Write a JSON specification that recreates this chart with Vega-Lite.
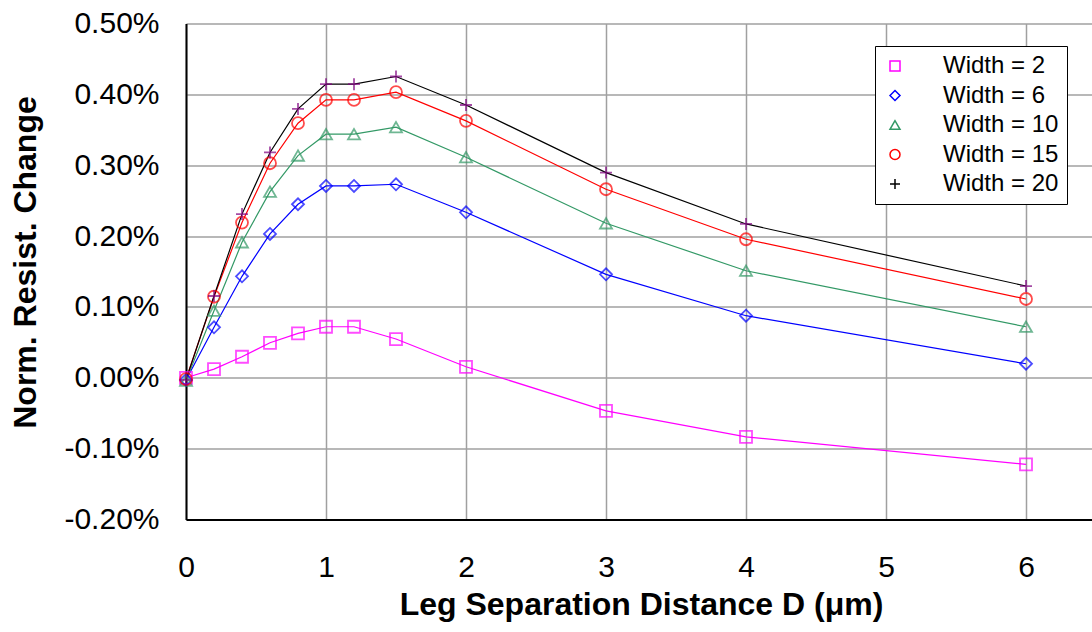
{
  "$schema": "https://vega.github.io/schema/vega-lite/v6.json",
  "autosize": {"type": "none"},
  "padding": {"left": 186, "top": 23.5, "right": 0, "bottom": 112.5},
  "width": 906,
  "height": 496,
  "background": "white",
  "config": {
    "font": "Liberation Sans",
    "view": {"stroke": null}
  },
  "data": {
    "values": [
      {"series": "Width = 2", "D": 0, "R": 0.0},
      {"series": "Width = 2", "D": 0.2, "R": 0.000123},
      {"series": "Width = 2", "D": 0.4, "R": 0.000297},
      {"series": "Width = 2", "D": 0.6, "R": 0.000494},
      {"series": "Width = 2", "D": 0.8, "R": 0.000627},
      {"series": "Width = 2", "D": 1.0, "R": 0.00072},
      {"series": "Width = 2", "D": 1.2, "R": 0.00072},
      {"series": "Width = 2", "D": 1.5, "R": 0.000547},
      {"series": "Width = 2", "D": 2, "R": 0.000155},
      {"series": "Width = 2", "D": 3, "R": -0.000466},
      {"series": "Width = 2", "D": 4, "R": -0.000833},
      {"series": "Width = 2", "D": 6, "R": -0.001223},

      {"series": "Width = 6", "D": 0, "R": -0.00003},
      {"series": "Width = 6", "D": 0.2, "R": 0.000712},
      {"series": "Width = 6", "D": 0.4, "R": 0.001432},
      {"series": "Width = 6", "D": 0.6, "R": 0.00203},
      {"series": "Width = 6", "D": 0.8, "R": 0.002449},
      {"series": "Width = 6", "D": 1.0, "R": 0.002708},
      {"series": "Width = 6", "D": 1.2, "R": 0.002708},
      {"series": "Width = 6", "D": 1.5, "R": 0.002731},
      {"series": "Width = 6", "D": 2, "R": 0.002336},
      {"series": "Width = 6", "D": 3, "R": 0.00146},
      {"series": "Width = 6", "D": 4, "R": 0.000876},
      {"series": "Width = 6", "D": 6, "R": 0.000198},

      {"series": "Width = 10", "D": 0, "R": -0.00004},
      {"series": "Width = 10", "D": 0.2, "R": 0.000946},
      {"series": "Width = 10", "D": 0.4, "R": 0.001912},
      {"series": "Width = 10", "D": 0.6, "R": 0.002627},
      {"series": "Width = 10", "D": 0.8, "R": 0.003136},
      {"series": "Width = 10", "D": 1.0, "R": 0.003438},
      {"series": "Width = 10", "D": 1.2, "R": 0.003438},
      {"series": "Width = 10", "D": 1.5, "R": 0.003537},
      {"series": "Width = 10", "D": 2, "R": 0.003113},
      {"series": "Width = 10", "D": 3, "R": 0.00218},
      {"series": "Width = 10", "D": 4, "R": 0.001511},
      {"series": "Width = 10", "D": 6, "R": 0.00072},

      {"series": "Width = 15", "D": 0, "R": -0.00002},
      {"series": "Width = 15", "D": 0.2, "R": 0.001144},
      {"series": "Width = 15", "D": 0.4, "R": 0.00219},
      {"series": "Width = 15", "D": 0.6, "R": 0.003028},
      {"series": "Width = 15", "D": 0.8, "R": 0.003593},
      {"series": "Width = 15", "D": 1.0, "R": 0.003922},
      {"series": "Width = 15", "D": 1.2, "R": 0.003922},
      {"series": "Width = 15", "D": 1.5, "R": 0.004031},
      {"series": "Width = 15", "D": 2, "R": 0.003626},
      {"series": "Width = 15", "D": 3, "R": 0.002661},
      {"series": "Width = 15", "D": 4, "R": 0.001955},
      {"series": "Width = 15", "D": 6, "R": 0.001112},

      {"series": "Width = 20", "D": 0, "R": -0.00003},
      {"series": "Width = 20", "D": 0.2, "R": 0.001154},
      {"series": "Width = 20", "D": 0.4, "R": 0.00231},
      {"series": "Width = 20", "D": 0.6, "R": 0.00318},
      {"series": "Width = 20", "D": 0.8, "R": 0.003795},
      {"series": "Width = 20", "D": 1.0, "R": 0.004144},
      {"series": "Width = 20", "D": 1.2, "R": 0.004144},
      {"series": "Width = 20", "D": 1.5, "R": 0.004252},
      {"series": "Width = 20", "D": 2, "R": 0.00385},
      {"series": "Width = 20", "D": 3, "R": 0.002896},
      {"series": "Width = 20", "D": 4, "R": 0.002171},
      {"series": "Width = 20", "D": 6, "R": 0.001295}
    ]
  },
  "encoding": {
    "x": {
      "field": "D",
      "type": "quantitative",
      "scale": {"domain": [0, 6.4714], "nice": false, "zero": false},
      "axis": {
        "orient": "bottom",
        "title": "Leg Separation Distance D (μm)",
        "titleFont": "Liberation Sans",
        "titleFontSize": 32,
        "titleFontWeight": "bold",
        "titleColor": "black",
        "titleX": 455,
        "titleY": 94.5,
        "titleAlign": "center",
        "titleBaseline": "alphabetic",
        "values": [0, 0.2, 0.4, 0.6, 0.8, 1, 1.2, 1.4, 1.6, 1.8, 2, 2.2, 2.4, 2.6, 2.8, 3, 3.2, 3.4, 3.6, 3.8, 4, 4.2, 4.4, 4.6, 4.8, 5, 5.2, 5.4, 5.6, 5.8, 6, 6.2, 6.4],
        "labelExpr": "abs(datum.value - round(datum.value)) < 1e-6 ? format(datum.value, 'd') : ''",
        "labelOverlap": false,
        "labelBound": false,
        "labelFontSize": 30,
        "labelColor": "black",
        "labelBaseline": "alphabetic",
        "labelPadding": 57,
        "labelFlush": false,
        "ticks": true,
        "tickSize": 0,
        "tickColor": "black",
        "tickWidth": 1.2,
        "domainColor": "black",
        "domainWidth": 2,
        "grid": true,
        "gridColor": "#a0a0a0",
        "gridWidth": 1.5,
        "gridOpacity": {"condition": {"test": "abs(datum.value - round(datum.value)) < 1e-6", "value": 1}, "value": 0},
        "encode": {
          "ticks": {"update": {"y2": {"value": -8}}}
        }
      }
    },
    "y": {
      "field": "R",
      "type": "quantitative",
      "scale": {"domain": [-0.002, 0.005], "nice": false, "zero": false},
      "axis": {
        "orient": "left",
        "title": "Norm. Resist. Change",
        "titleFont": "Liberation Sans",
        "titleFontSize": 32,
        "titleFontWeight": "bold",
        "titleColor": "black",
        "titleAngle": -90,
        "titleX": -151,
        "titleY": 238.5,
        "titleAlign": "center",
        "titleBaseline": "alphabetic",
        "values": [-0.002, -0.0018, -0.0016, -0.0014, -0.0012, -0.001, -0.0008, -0.0006, -0.0004, -0.0002, 0, 0.0002, 0.0004, 0.0006, 0.0008, 0.001, 0.0012, 0.0014, 0.0016, 0.0018, 0.002, 0.0022, 0.0024, 0.0026, 0.0028, 0.003, 0.0032, 0.0034, 0.0036, 0.0038, 0.004, 0.0042, 0.0044, 0.0046, 0.0048, 0.005],
        "labelExpr": "abs(datum.value * 1000 - round(datum.value * 1000)) < 1e-6 ? replace(format(datum.value, '.2%'), '\u2212', '-') : ''",
        "labelOverlap": false,
        "labelBound": false,
        "labelFontSize": 30,
        "labelColor": "black",
        "labelPadding": 27,
        "labelFlush": false,
        "ticks": true,
        "tickSize": 0,
        "tickColor": "black",
        "tickWidth": 1.2,
        "domainColor": "black",
        "domainWidth": 2,
        "grid": true,
        "gridColor": "#a0a0a0",
        "gridWidth": 1.5,
        "gridOpacity": {"condition": {"test": "abs(datum.value * 1000 - round(datum.value * 1000)) < 1e-6", "value": 1}, "value": 0},
        "encode": {
          "ticks": {"update": {"x2": {"value": 8}}}
        }
      }
    }
  },
  "layer": [
    {
      "mark": {"type": "line", "strokeWidth": 1.2},
      "encoding": {
        "color": {
          "field": "series",
          "type": "nominal",
          "scale": {
            "domain": ["Width = 2", "Width = 6", "Width = 10", "Width = 15", "Width = 20"],
            "range": ["#ff00ff", "#0000ff", "#339966", "#ff0000", "#000000"]
          },
          "legend": {
            "title": null,
            "orient": "none",
            "legendX": 689,
            "legendY": 22.5,
            "strokeColor": "black",
            "fillColor": "white",
            "padding": 8,
            "rowPadding": 5.5,
            "labelFontSize": 24,
            "labelColor": "black",
            "labelOffset": 36,
            "labelLimit": 300,
            "symbolSize": 100,
            "symbolStrokeWidth": 1.5,
            "encode": {
              "symbols": {
                "update": {
                  "fill": {"value": "transparent"},
                  "strokeWidth": {"value": 1.5},
                  "shape": {
                    "signal": "datum.value === 'Width = 2' ? 'M-0.4,0H3.6M5.6,0H9.6M3.6,-1H5.6V1H3.6Z' : datum.value === 'Width = 6' ? 'M-0.4,0H3.5M5.7,0H9.6M4.6,-1.1L5.7,0L4.6,1.1L3.5,0Z' : datum.value === 'Width = 10' ? 'M-0.4,0H3.97M5.23,0H9.6M4.6,-1.1L5.8,1L3.4,1Z' : datum.value === 'Width = 15' ? 'M-0.4,0H3.7M5.5,0H9.6M3.7,0A0.9,0.9 0 1,0 5.5,0A0.9,0.9 0 1,0 3.7,0Z' : 'M-0.4,0H9.6M4.6,-1.1V1.1'"
                  }
                }
              }
            }
          }
        }
      }
    },
    {
      "mark": {"type": "point", "filled": false, "strokeWidth": 1.8, "size": 144},
      "encoding": {
        "stroke": {
          "field": "series",
          "type": "nominal",
          "scale": {
            "domain": ["Width = 2", "Width = 6", "Width = 10", "Width = 15", "Width = 20"],
            "range": ["#ff00ff", "#0000ff", "#339966", "#ff0000", "#800080"]
          },
          "legend": null
        },
        "shape": {
          "field": "series",
          "type": "nominal",
          "scale": {
            "domain": ["Width = 2", "Width = 6", "Width = 10", "Width = 15", "Width = 20"],
            "range": ["square", "diamond", "triangle-up", "circle", "M-1,0H1M0,-1V1"]
          },
          "legend": null
        }
      }
    }
  ]
}
